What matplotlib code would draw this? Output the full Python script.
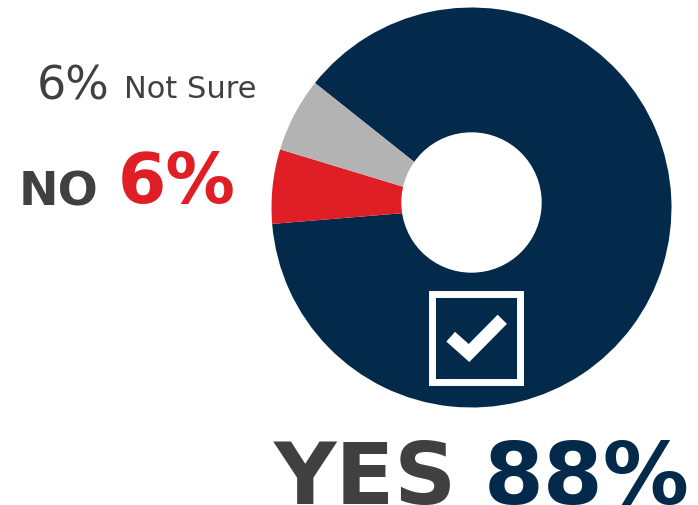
import matplotlib
matplotlib.use("Agg")
import matplotlib.pyplot as plt
from matplotlib.patches import Circle, Rectangle

# survey answers
labels = ["YES", "NO", "Not Sure"]
values = [88, 6, 6]
colors = ["#032a4a", "#e01e25", "#b3b3b3"]
text_grey = "#404040"

W, H = 698, 505
fig = plt.figure(figsize=(W / 100, H / 100), dpi=100)

# donut: centre (471.5, 207.5) px, radius 200 px
cx, cy, r = 471.5, 207.5, 200
ax = fig.add_axes([(cx - r) / W, (H - cy - r) / H, 2 * r / W, 2 * r / H])
ax.pie(values, colors=colors, startangle=141.5, counterclock=False,
       radius=1, wedgeprops=dict(linewidth=0))
ax.add_patch(Circle((0, 0.025), 0.3475, color="white", zorder=3))
ax.set_xlim(-1, 1)
ax.set_ylim(-1, 1)
ax.set_aspect("equal")
ax.axis("off")

# check box
ax.add_patch(Rectangle((0.0225 - 0.22, -0.654 - 0.22), 0.44, 0.44,
                       fill=False, edgecolor="white", linewidth=5.0, zorder=4))
ax.plot([-0.104, -0.0125, 0.154], [-0.646, -0.7275, -0.559], color="white",
        linewidth=9.4, solid_capstyle="butt", solid_joinstyle="miter", zorder=4)


def put(x, y, s, size, color, weight="bold"):
    fig.text(x / W, 1 - y / H, s, fontsize=size, color=color, weight=weight,
             family="DejaVu Sans", ha="left", va="baseline")


# Not Sure
put(37, 99, "6%", 33, text_grey, "normal")
put(124, 98, labels[2], 22, text_grey, "normal")
# NO
put(19, 205.5, labels[1], 34, text_grey)
put(118, 203, f"{values[1]}%", 50, colors[1])
# YES
put(274, 504, labels[0], 62, text_grey)
put(484, 504, f"{values[0]}%", 62, colors[0])

fig.savefig("out.png", dpi=100)
